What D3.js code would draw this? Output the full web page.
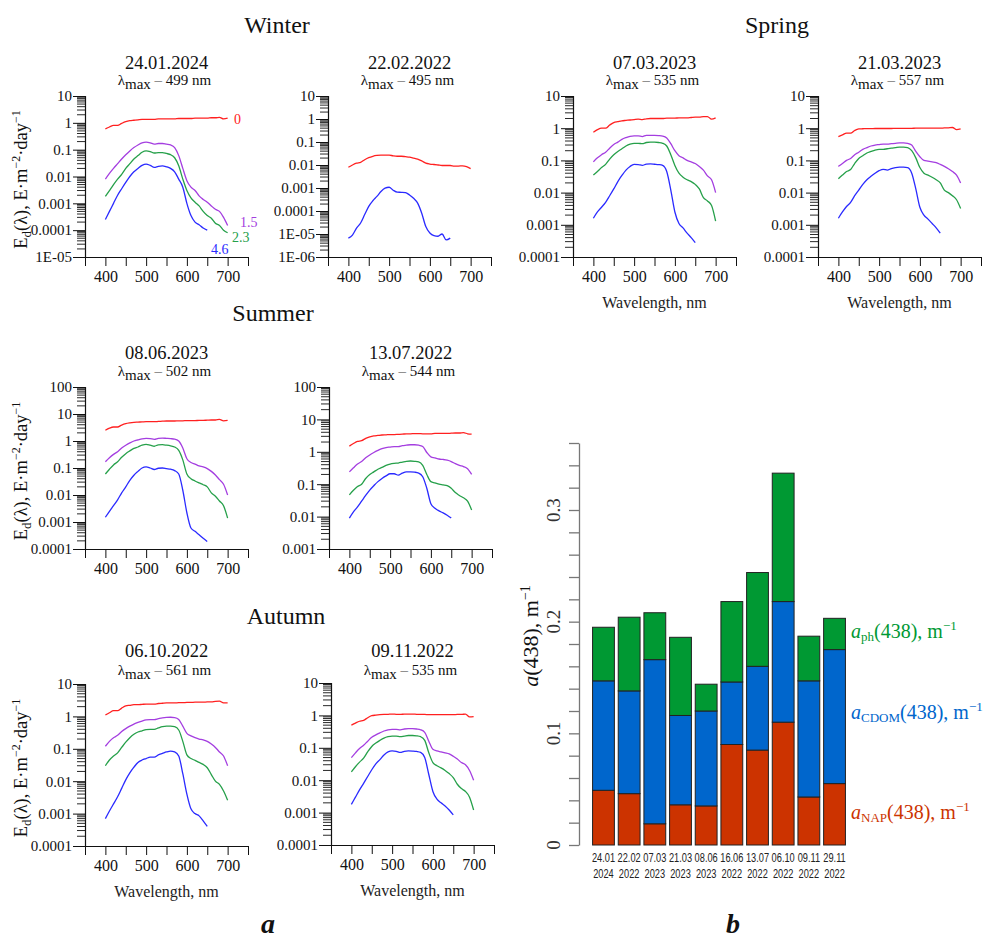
<!DOCTYPE html>
<html><head><meta charset="utf-8">
<script src="https://cdn.jsdelivr.net/npm/d3@7"></script>
<style>
html,body{margin:0;padding:0;background:#fff;}
svg{display:block;font-family:"Liberation Serif","Times New Roman",serif;}
</style></head>
<body>
<svg id="chart" width="990" height="940"></svg>
<script>
// ---------------- DATA ----------------
const wl = [400,410,420,430,440,450,460,470,480,490,500,510,520,530,540,550,560,570,580,590,600,610,620,630,640,650,660,670,680,690,700];
const wlBlue = [400,410,420,430,440,450,460,470,480,490,500,510,520,530,540,550,560,570,580,590,600,610,620,630,640,650];
const depthLabels = ["0","1.5","2.3","4.6"];

// Winter 24.01.2024
const w1_0 = [0.6,0.7,0.8,0.8,0.95,1.1,1.2,1.25,1.3,1.35,1.35,1.35,1.35,1.4,1.4,1.4,1.4,1.4,1.45,1.45,1.45,1.45,1.5,1.5,1.5,1.5,1.55,1.55,1.6,1.4,1.5];
const w1_15 = [0.008,0.013,0.02,0.03,0.045,0.065,0.09,0.12,0.15,0.18,0.19,0.18,0.16,0.17,0.17,0.16,0.15,0.12,0.06,0.02,0.007,0.004,0.003,0.0019,0.0014,0.0011,0.0008,0.0006,0.0005,0.0003,0.00015];
const w1_23 = [0.0018,0.003,0.005,0.008,0.012,0.02,0.03,0.045,0.06,0.08,0.09,0.085,0.075,0.078,0.078,0.072,0.065,0.05,0.025,0.008,0.003,0.0016,0.0011,0.0008,0.0005,0.00035,0.00028,0.00018,0.00015,0.0001,0.00008];
const w1_46 = [0.00025,0.0005,0.001,0.002,0.0035,0.006,0.01,0.015,0.02,0.026,0.029,0.026,0.022,0.024,0.025,0.023,0.02,0.015,0.008,0.004,0.001,0.00035,0.0002,0.00016,0.00012,0.0001];
// Winter 22.02.2022
const w2_0 = [0.008,0.01,0.012,0.013,0.017,0.021,0.024,0.026,0.027,0.027,0.027,0.025,0.024,0.024,0.023,0.022,0.02,0.018,0.015,0.012,0.011,0.0105,0.01,0.0095,0.0095,0.0095,0.009,0.009,0.0092,0.0085,0.007];
const w2_46 = [6.6e-6,9e-6,1.8e-5,3e-5,7e-5,1.6e-4,2.8e-4,4.3e-4,7e-4,9.8e-4,1.08e-3,8e-4,6.6e-4,6.5e-4,6.3e-4,5e-4,3.6e-4,2.2e-4,8e-5,2.1e-5,1.1e-5,8.5e-6,8e-6,1e-5,5.5e-6,6.6e-6];
// Spring 07.03.2023
const s1_0 = [0.75,0.9,1.0,1.0,1.25,1.5,1.6,1.7,1.75,1.8,1.85,1.9,1.85,1.95,2.0,2.0,2.0,2.0,2.05,2.05,2.05,2.1,2.1,2.1,2.15,2.2,2.2,2.3,2.3,1.9,2.1];
const s1_15 = [0.09,0.12,0.15,0.18,0.24,0.31,0.37,0.45,0.51,0.56,0.58,0.58,0.55,0.6,0.6,0.6,0.59,0.57,0.5,0.33,0.2,0.14,0.12,0.1,0.09,0.08,0.065,0.05,0.033,0.025,0.01];
const s1_23 = [0.035,0.045,0.06,0.075,0.11,0.15,0.19,0.23,0.28,0.32,0.34,0.34,0.33,0.36,0.37,0.37,0.36,0.34,0.28,0.15,0.07,0.04,0.03,0.025,0.022,0.018,0.013,0.007,0.0055,0.004,0.0013];
const s1_46 = [0.0016,0.0025,0.0035,0.005,0.008,0.013,0.022,0.034,0.05,0.065,0.075,0.074,0.07,0.077,0.078,0.076,0.074,0.07,0.045,0.012,0.0025,0.0011,0.0008,0.00055,0.0004,0.00028];
// Spring 21.03.2023
const s2_0 = [0.55,0.62,0.7,0.7,0.85,0.95,0.96,0.97,0.97,0.98,0.98,0.98,0.98,0.98,0.99,0.99,0.99,0.99,0.99,1.0,1.0,1.0,1.0,1.0,1.0,1.0,1.02,1.03,1.05,0.9,0.95];
const s2_15 = [0.065,0.08,0.1,0.115,0.15,0.18,0.22,0.25,0.28,0.3,0.31,0.32,0.32,0.33,0.34,0.35,0.35,0.34,0.3,0.19,0.13,0.1,0.095,0.09,0.085,0.075,0.065,0.055,0.045,0.035,0.02];
const s2_23 = [0.027,0.035,0.045,0.052,0.08,0.115,0.14,0.17,0.19,0.21,0.22,0.22,0.23,0.24,0.25,0.26,0.26,0.25,0.2,0.12,0.06,0.04,0.035,0.03,0.025,0.02,0.012,0.01,0.008,0.006,0.0032];
const s2_46 = [0.0016,0.0025,0.0037,0.005,0.008,0.012,0.018,0.025,0.032,0.04,0.048,0.053,0.05,0.056,0.06,0.062,0.062,0.06,0.04,0.013,0.0035,0.002,0.0015,0.0011,0.0008,0.00055];
// Summer 08.06.2023
const u1_0 = [2.5,3.0,3.3,3.3,3.9,4.4,4.7,4.9,5.0,5.1,5.2,5.2,5.2,5.3,5.4,5.5,5.5,5.5,5.6,5.6,5.7,5.7,5.7,5.8,5.8,5.9,6.0,6.0,6.3,5.6,5.8];
const u1_15 = [0.17,0.24,0.32,0.4,0.55,0.7,0.85,1.0,1.1,1.2,1.25,1.22,1.15,1.25,1.28,1.25,1.22,1.18,1.0,0.55,0.22,0.16,0.14,0.12,0.11,0.095,0.075,0.055,0.037,0.025,0.01];
const u1_23 = [0.06,0.09,0.13,0.17,0.25,0.34,0.43,0.53,0.6,0.7,0.75,0.7,0.64,0.72,0.73,0.7,0.66,0.6,0.45,0.2,0.06,0.04,0.033,0.028,0.024,0.02,0.012,0.009,0.006,0.004,0.0014];
const u1_46 = [0.0015,0.0025,0.004,0.0066,0.012,0.02,0.035,0.054,0.075,0.1,0.11,0.1,0.088,0.098,0.1,0.095,0.09,0.08,0.06,0.015,0.0022,0.0006,0.00045,0.00034,0.00025,0.00019];
// Summer 13.07.2022
const u2_0 = [1.5,1.8,2.1,2.2,2.6,2.9,3.1,3.2,3.3,3.35,3.4,3.4,3.45,3.5,3.6,3.6,3.65,3.65,3.6,3.6,3.6,3.7,3.7,3.7,3.7,3.75,3.8,3.8,3.9,3.6,3.5];
const u2_15 = [0.24,0.32,0.42,0.5,0.65,0.8,0.95,1.1,1.25,1.35,1.4,1.45,1.45,1.55,1.6,1.65,1.65,1.6,1.45,0.95,0.7,0.65,0.6,0.58,0.55,0.5,0.43,0.38,0.35,0.3,0.2];
const u2_23 = [0.047,0.065,0.085,0.1,0.15,0.2,0.24,0.29,0.33,0.38,0.42,0.44,0.45,0.48,0.51,0.52,0.51,0.49,0.38,0.2,0.12,0.11,0.1,0.095,0.09,0.075,0.055,0.045,0.038,0.03,0.016];
const u2_46 = [0.009,0.014,0.02,0.03,0.045,0.066,0.09,0.12,0.15,0.18,0.21,0.21,0.19,0.22,0.24,0.24,0.235,0.22,0.17,0.075,0.025,0.018,0.015,0.013,0.011,0.009];
// Autumn 06.10.2022
const a1_0 = [1.1,1.3,1.5,1.5,1.8,2.1,2.2,2.3,2.3,2.35,2.4,2.4,2.4,2.5,2.55,2.6,2.6,2.6,2.65,2.65,2.7,2.7,2.75,2.75,2.75,2.8,2.8,2.9,2.95,2.6,2.6];
const a1_15 = [0.12,0.17,0.22,0.26,0.34,0.42,0.5,0.58,0.65,0.72,0.78,0.8,0.8,0.85,0.9,0.93,0.94,0.92,0.8,0.5,0.3,0.25,0.22,0.2,0.19,0.17,0.14,0.11,0.08,0.06,0.03];
const a1_23 = [0.03,0.045,0.06,0.075,0.11,0.16,0.22,0.28,0.33,0.36,0.39,0.4,0.4,0.44,0.48,0.5,0.5,0.48,0.38,0.17,0.065,0.05,0.044,0.038,0.033,0.026,0.016,0.01,0.008,0.005,0.0026];
const a1_46 = [0.0007,0.0012,0.002,0.0033,0.006,0.011,0.018,0.027,0.038,0.045,0.05,0.055,0.055,0.065,0.072,0.08,0.085,0.08,0.06,0.017,0.004,0.0014,0.001,0.00085,0.0006,0.0004];
// Autumn 09.11.2022
const a2_0 = [0.5,0.58,0.66,0.7,0.85,0.98,1.02,1.05,1.07,1.08,1.1,1.08,1.07,1.1,1.1,1.1,1.08,1.07,1.07,1.05,1.05,1.05,1.05,1.05,1.05,1.05,1.07,1.07,1.1,0.9,0.92];
const a2_15 = [0.05,0.07,0.095,0.12,0.16,0.21,0.25,0.29,0.33,0.36,0.37,0.37,0.36,0.38,0.39,0.39,0.38,0.36,0.3,0.16,0.09,0.08,0.075,0.07,0.065,0.055,0.045,0.035,0.03,0.02,0.01];
const a2_23 = [0.018,0.026,0.036,0.048,0.075,0.11,0.14,0.17,0.2,0.22,0.23,0.23,0.22,0.23,0.24,0.24,0.235,0.22,0.17,0.07,0.035,0.028,0.024,0.02,0.016,0.012,0.0075,0.0055,0.0045,0.003,0.0012];
const a2_46 = [0.0018,0.003,0.005,0.008,0.013,0.021,0.032,0.043,0.06,0.075,0.08,0.078,0.072,0.078,0.08,0.079,0.077,0.072,0.05,0.015,0.0045,0.0026,0.002,0.0016,0.0012,0.00085];

// tick labels
const xTickLabels = [400,500,600,700];
const yLabels_1e5 = ["10","1","0.1","0.01","0.001","0.0001","1E-05"];
const yLabels_1e6 = ["10","1","0.1","0.01","0.001","0.0001","1E-05","1E-06"];
const yLabels_1e4 = ["10","1","0.1","0.01","0.001","0.0001"];
const yLabels_100_1e4 = ["100","10","1","0.1","0.01","0.001","0.0001"];
const yLabels_100_1e3 = ["100","10","1","0.1","0.01","0.001"];

// bar chart data
const barDays = ["24.01","22.02","07.03","21.03","08.06","16.06","13.07","06.10","09.11","29.11"];
const barYears = ["2024","2022","2023","2023","2023","2022","2022","2022","2022","2022"];
const aNAP  = [0.049,0.046,0.019,0.036,0.035,0.090,0.085,0.110,0.043,0.055];
const aCDOM = [0.098,0.092,0.147,0.080,0.085,0.056,0.075,0.108,0.104,0.120];
const aPH   = [0.048,0.066,0.042,0.070,0.024,0.072,0.084,0.115,0.040,0.028];
const barYTickLabels = [0, 0.1, 0.2, 0.3];

// ---------------- STYLE ----------------
const FONT = "'Liberation Serif','Times New Roman',serif";
const NARROW = "'Liberation Sans Narrow','Arial Narrow','Liberation Sans',sans-serif";
const COL = {d0:"#ff2020", d15:"#a43ee0", d23:"#26a04a", d46:"#2a2aff"};
const BAR = {nap:"#cc3300", cdom:"#0066cc", ph:"#009933"};

const svg = d3.select("#chart");

const panels = [
  {date:"24.01.2024", lmax:"499", ymin:1e-5, ymax:10, labels:yLabels_1e5, ax:85, top:96, bottom:257, tY:69, lY:85, ylab:true,
   s:[w1_0,w1_15,w1_23,w1_46], xlab:false, depth:true},
  {date:"22.02.2022", lmax:"495", ymin:1e-6, ymax:10, labels:yLabels_1e6, ax:328, top:96, bottom:257, tY:69, lY:85,
   s:[w2_0,null,null,w2_46], xlab:false},
  {date:"07.03.2023", lmax:"535", ymin:1e-4, ymax:10, labels:yLabels_1e4, ax:573, top:96, bottom:257, tY:69, lY:85,
   s:[s1_0,s1_15,s1_23,s1_46], xlab:true},
  {date:"21.03.2023", lmax:"557", ymin:1e-4, ymax:10, labels:yLabels_1e4, ax:818, top:96, bottom:257, tY:69, lY:85,
   s:[s2_0,s2_15,s2_23,s2_46], xlab:true},
  {date:"08.06.2023", lmax:"502", ymin:1e-4, ymax:100, labels:yLabels_100_1e4, ax:85, top:387, bottom:549, tY:359, lY:376, ylab:true,
   s:[u1_0,u1_15,u1_23,u1_46], xlab:false},
  {date:"13.07.2022", lmax:"544", ymin:1e-3, ymax:100, labels:yLabels_100_1e3, ax:329, top:387, bottom:549, tY:359, lY:376,
   s:[u2_0,u2_15,u2_23,u2_46], xlab:false},
  {date:"06.10.2022", lmax:"561", ymin:1e-4, ymax:10, labels:yLabels_1e4, ax:85, top:684, bottom:846, tY:657, lY:675, ylab:true,
   s:[a1_0,a1_15,a1_23,a1_46], xlab:true},
  {date:"09.11.2022", lmax:"535", ymin:1e-4, ymax:10, labels:yLabels_1e4, ax:331, top:683, bottom:845, tY:657, lY:675,
   s:[a2_0,a2_15,a2_23,a2_46], xlab:true}
];
const colors = [COL.d0, COL.d15, COL.d23, COL.d46];

panels.forEach(p => {
  const g = svg.append("g").attr("font-family", FONT);
  const x = d3.scaleLinear().domain([350,750]).range([p.ax, p.ax+163]);
  const y = d3.scaleLog().domain([p.ymin, p.ymax]).range([p.bottom, p.top]);
  const cx = x(550);

  // titles
  g.append("text").attr("x", cx).attr("y", p.tY).attr("text-anchor","middle")
    .attr("font-size", 18.5).attr("fill","#111").text(p.date);
  const lt = g.append("text").attr("x", cx-2).attr("y", p.lY).attr("text-anchor","middle")
    .attr("font-size", 15).attr("fill","#111");
  lt.append("tspan").text("λ");
  lt.append("tspan").attr("dy",4).attr("font-size",15).text("max");
  lt.append("tspan").attr("dy",-4).attr("fill","#777").text(" –  ");
  lt.append("tspan").text(p.lmax + " nm");

  // y axis (log) with minor ticks
  const decades = [];
  for (let e = Math.round(Math.log10(p.ymax)); e >= Math.round(Math.log10(p.ymin)); e--) decades.push(Math.pow(10, e));
  const minor = [];
  decades.forEach(d => { if (d < p.ymax) for (let k = 2; k <= 9; k++) minor.push(k*d); });
  const yAxis = d3.axisLeft(y).tickValues(decades).tickFormat((d,i)=>p.labels[i]).tickSize(12).tickPadding(1);
  const ga = g.append("g").attr("transform",`translate(${p.ax},0)`).call(yAxis);
  ga.attr("font-family", FONT);
  ga.select(".domain").attr("stroke","#111").attr("stroke-width",1.2);
  ga.selectAll(".tick line").attr("stroke","#111");
  ga.selectAll(".tick text").attr("font-size",15).attr("fill","#111");
  g.append("g").selectAll("line").data(minor).join("line")
    .attr("x1", p.ax-8).attr("x2", p.ax).attr("y1", d=>y(d)).attr("y2", d=>y(d))
    .attr("stroke","#111").attr("stroke-width",0.9);

  // x axis
  const xAxis = d3.axisBottom(x).tickValues([350,400,450,500,550,600,650,700,750])
    .tickFormat(d => xTickLabels.includes(d) ? d : "").tickSize(9).tickSizeOuter(0).tickPadding(5);
  const gx = g.append("g").attr("transform",`translate(0,${p.bottom})`).call(xAxis);
  gx.attr("font-family", FONT);
  gx.select(".domain").attr("stroke","#111").attr("stroke-width",1.2);
  gx.selectAll(".tick line").attr("stroke","#111");
  gx.selectAll(".tick text").attr("font-size",16).attr("fill","#111");

  if (p.xlab) {
    g.append("text").attr("x", cx).attr("y", p.bottom+51).attr("text-anchor","middle")
      .attr("font-size",16).attr("fill","#222").text("Wavelength, nm");
  }
  if (p.ylab) {
    const t = g.append("text").attr("transform",`translate(27,${(p.top+p.bottom)/2+3}) rotate(-90)`)
      .attr("text-anchor","middle").attr("font-size",18.5).attr("fill","#111");
    t.append("tspan").text("E");
    t.append("tspan").attr("dy",4).attr("font-size",13).text("d");
    t.append("tspan").attr("dy",-4).text("(λ), E·m");
    t.append("tspan").attr("dy",-7).attr("font-size",12).text("−2");
    t.append("tspan").attr("dy",7).text("·day");
    t.append("tspan").attr("dy",-7).attr("font-size",12).text("−1");
  }

  // lines
  const line = d3.line().x(d=>x(d[0])).y(d=>y(d[1])).curve(d3.curveMonotoneX);
  p.s.forEach((vals, i) => {
    if (!vals) return;
    const xs = vals.length === wl.length ? wl : wlBlue;
    g.append("path").datum(xs.map((w,j)=>[w, vals[j]]))
      .attr("d", line).attr("fill","none").attr("stroke", colors[i]).attr("stroke-width",1.3);
  });

  if (p.depth) {
    const pos = [[234,124],[240,227],[232,242],[211,254]];
    depthLabels.forEach((lab,i)=>{
      g.append("text").attr("x",pos[i][0]).attr("y",pos[i][1]).attr("font-size",14)
        .attr("fill",colors[i]).text(lab);
    });
  }
});

// season titles
[["Winter",277,33],["Spring",777,33],["Summer",273,321],["Autumn",286,624]].forEach(s=>{
  svg.append("text").attr("x",s[1]).attr("y",s[2]).attr("text-anchor","middle").attr("font-family",FONT)
    .attr("font-size",24).attr("fill","#111").text(s[0]);
});

// ---------------- BAR CHART ----------------
const bx = d3.scaleBand().domain(barDays.map((d,i)=>i)).range([590,848]).paddingInner(0.15).paddingOuter(0.1);
const by = d3.scaleLinear().domain([0,0.36]).range([845,443]);
const table = barDays.map((d,i)=>({i, nap:aNAP[i], cdom:aCDOM[i], ph:aPH[i]}));
const stack = d3.stack().keys(["nap","cdom","ph"])(table);

const gb = svg.append("g").attr("font-family", FONT);
const yb = d3.axisLeft(by).tickValues(by.ticks(18)).tickFormat("").tickSize(10).tickSizeOuter(0);
const gya = gb.append("g").attr("transform","translate(579,0)").call(yb);
gya.select(".domain").attr("stroke","#777").attr("stroke-width",1.3);
gya.selectAll(".tick line").attr("stroke","#777").attr("stroke-width",1.3);
barYTickLabels.forEach(v=>{
  gb.append("text").attr("transform",`translate(560,${by(v)}) rotate(-90)`).attr("text-anchor","middle")
    .attr("font-size",19).attr("fill","#333").text(v);
});
const ylb = gb.append("text").attr("transform","translate(538,636) rotate(-90)").attr("text-anchor","middle")
  .attr("font-size",22).attr("fill","#111");
ylb.append("tspan").attr("font-style","italic").text("a");
ylb.append("tspan").text("(438), m");
ylb.append("tspan").attr("dy",-8).attr("font-size",14).text("−1");

stack.forEach(layer=>{
  gb.append("g").selectAll("rect").data(layer).join("rect")
    .attr("x", d=>bx(d.data.i)).attr("width", bx.bandwidth())
    .attr("y", d=>by(d[1])).attr("height", d=>by(d[0])-by(d[1]))
    .attr("fill", BAR[layer.key]).attr("stroke","#222").attr("stroke-width",1);
});
barDays.forEach((d,i)=>{
  const cxb = bx(i)+bx.bandwidth()/2;
  const gl = gb.append("g").attr("transform",`translate(${cxb},0) scale(0.74,1)`)
    .attr("font-family", NARROW).attr("font-size",12.5).attr("fill","#222");
  gl.append("text").attr("x",0).attr("y",862).attr("text-anchor","middle").text(d);
  gl.append("text").attr("x",0).attr("y",878).attr("text-anchor","middle").text(barYears[i]);
});

// legend
[["ph",BAR.ph,638],["CDOM",BAR.cdom,719],["NAP",BAR.nap,819]].forEach(l=>{
  const t = gb.append("text").attr("x",851).attr("y",l[2]).attr("font-size",20).attr("fill",l[1]);
  t.append("tspan").attr("font-style","italic").text("a");
  t.append("tspan").attr("dy",3).attr("font-size",13).text(l[0]);
  t.append("tspan").attr("dy",-3).text("(438), m");
  t.append("tspan").attr("dy",-8).attr("font-size",13).text("−1");
});

// panel letters
svg.append("text").attr("x",268).attr("y",933).attr("text-anchor","middle").attr("font-family",FONT).attr("font-size",28)
  .attr("font-weight","bold").attr("font-style","italic").attr("fill","#111").text("a");
svg.append("text").attr("x",733).attr("y",933).attr("text-anchor","middle").attr("font-family",FONT).attr("font-size",28)
  .attr("font-weight","bold").attr("font-style","italic").attr("fill","#111").text("b");
</script>
</body></html>
